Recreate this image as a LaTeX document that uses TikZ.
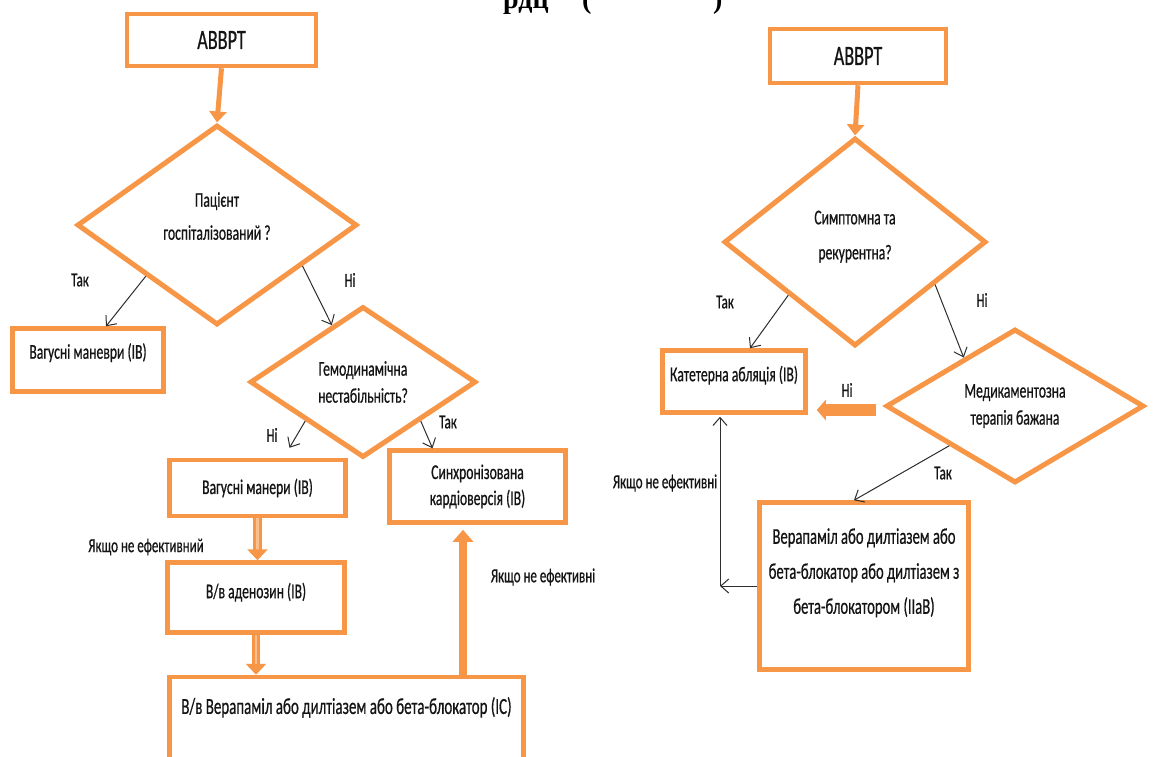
\documentclass[tikz,border=0pt]{standalone}
\usepackage{fontspec}
\setmainfont{Carlito}[FakeStretch=0.65,FakeBold=0.6]
\newfontfamily\titlefont{Liberation Serif}
\usetikzlibrary{arrows.meta,shapes.geometric,calc}
\definecolor{orng}{HTML}{F79646}
\definecolor{orngl}{HTML}{FAC090}
\definecolor{ink}{HTML}{141414}
\definecolor{wire}{HTML}{2E2E2E}

\begin{document}
\begin{tikzpicture}[x=1pt,y=-1pt,
  every node/.style={text=ink},
  box/.style={draw=orng, line width=4.5pt, fill=white, inner sep=0pt, align=center, font=\fontsize{21}{26}\selectfont},
  dec/.style={diamond, draw=orng, line width=5pt, fill=white, inner sep=0pt, align=center, font=\fontsize{21}{27}\selectfont},
  lbl/.style={inner sep=0pt, font=\fontsize{20}{24}\selectfont},
  lh/.style={font=\fontsize{21}{#1}\selectfont},
  lift/.style={text depth=#1},
  yesno/.style={draw=wire, line width=1pt, -{Straight Barb[length=8pt,width=14pt]}},
  flow/.style={draw=orng, line width=5pt, -{Triangle[length=11pt,width=17pt]}},
  hollowflow/.style={draw=orng, line width=3pt, double=orngl, double distance=2.5pt, -{Triangle[length=11pt,width=20pt]}},
  solidflow/.style={draw=orng, line width=8pt, -{Triangle[length=12pt,width=20pt]}},
  fatflow/.style={draw=orng, line width=12pt, -{Triangle[length=9pt,width=20pt]}},
  ttl/.style={anchor=base west, inner sep=0pt, text=black, font=\titlefont\bfseries\fontsize{28}{28}\selectfont},
]
\useasboundingbox[fill=white] (0,0) rectangle (1154,756);

% heading, mostly above the page edge
\node[ttl] (ttlA) at (503,8) {рдц};
\node[ttl] (ttlB) at (582,8) {(};
\node[ttl] (ttlC) at (713,8) {)};

% left algorithm
\node[box, minimum width=189, minimum height=52, font=\fontsize{28}{30}\selectfont] (ab1) at (221.5,40) {АВВРТ};
\node[dec, minimum width=280, minimum height=200, lh=33, lift=18pt] (d1) at (217,225) {Пацієнт\\госпіталізований ?};
\node[box, minimum width=151, minimum height=63, lift=18pt] (vag1) at (88,360) {Вагусні маневри (IB)};
\node[dec, minimum width=226, minimum height=151] (d2) at (363,382) {Гемодинамічна\\нестабільність?};
\node[box, minimum width=176, minimum height=56] (vag2) at (257.5,488) {Вагусні манери (IB)};
\node[box, minimum width=176, minimum height=72, lh=26] (sync) at (477.5,486.5) {Синхронізована\\кардіоверсія (IB)};
\node[box, minimum width=177, minimum height=70, lift=14pt] (aden) at (256,597.5) {В/в аденозин (IB)};
\node[box, minimum width=354, minimum height=85, lift=28pt, font=\fontsize{23}{28}\selectfont] (big) at (346.5,719.5) {В/в Верапаміл або дилтіазем або бета-блокатор (IC)};

% right algorithm
\node[box, minimum width=176, minimum height=54, font=\fontsize{28}{30}\selectfont] (ab2) at (858,56) {АВВРТ};
\node[dec, minimum width=262, minimum height=208, lh=35, lift=14pt] (d3) at (855,242) {Симптомна та\\рекурентна?};
\node[box, minimum width=143, minimum height=62, lift=16pt] (kat) at (734,381.5) {Катетерна абляція (IB)};
\node[dec, minimum width=258, minimum height=154] (d4) at (1015,406) {Медикаментозна\\терапія бажана};
\node[box, minimum width=209, minimum height=167, lift=30pt, font=\fontsize{22.5}{35}\selectfont] (verap) at (864,586) {Верапаміл або дилтіазем або\\бета-блокатор або дилтіазем з\\бета-блокатором (IIaB)};

% branch labels
\node[lbl] (l1) at (80,280) {Так};
\node[lbl] (l2) at (350,280) {Ні};
\node[lbl] (l3) at (272,435) {Ні};
\node[lbl] (l4) at (448,422) {Так};
\node[lbl] (l5) at (146,547) {Якщо не ефективний};
\node[lbl] (l6) at (543,577) {Якщо не ефективні};
\node[lbl] (l7) at (725,302) {Так};
\node[lbl] (l8) at (982,300) {Ні};
\node[lbl] (l9) at (847,390) {Ні};
\node[lbl] (l10) at (943,473) {Так};
\node[lbl] (l11) at (665,483) {Якщо не ефективні};

% connectors, left
\draw[flow] (ab1.south) -- (d1.north);
\draw[yesno] (d1.south west) -- ($(vag1.north)+(18,0)$);
\draw[yesno] ($(d1.east)!0.4!(d1.south)$) -- ($(d2.north)!0.27!(d2.west)$);
\draw[yesno] (d2.south west) -- ($(vag2.north)+(32,-10)$);
\draw[yesno] (d2.south east) -- ($(sync.north)+(-45,0)$);
\draw[hollowflow] (vag2.south) -- (vag2.south |- aden.north);
\draw[hollowflow] (aden.south) -- (aden.south |- big.north);
\coordinate (upx) at (463,0);
\draw[solidflow, shorten >=5pt] (big.north -| upx) -- (sync.south -| upx);

% connectors, right
\draw[flow] (ab2.south) -- (d3.north);
\draw[yesno] (d3.south west) -- ($(kat.north)+(16,0)$);
\draw[yesno] ($(d3.east)!0.4!(d3.south)$) -- ($(d4.north)!0.39!(d4.west)$);
\draw[yesno] (d4.south west) -- ($(verap.north)+(-10,0)$);
\draw[fatflow] ($(d4.west)+(-8,4)$) -- ($(d4.west -| kat.east)+(9,4)$);
\coordinate (retx) at (720,0);
\draw[yesno] (verap.west) -- (verap.west -| retx);
\draw[yesno, shorten >=2pt] (verap.west -| retx) -- (retx |- kat.south);
\end{tikzpicture}
\end{document}
